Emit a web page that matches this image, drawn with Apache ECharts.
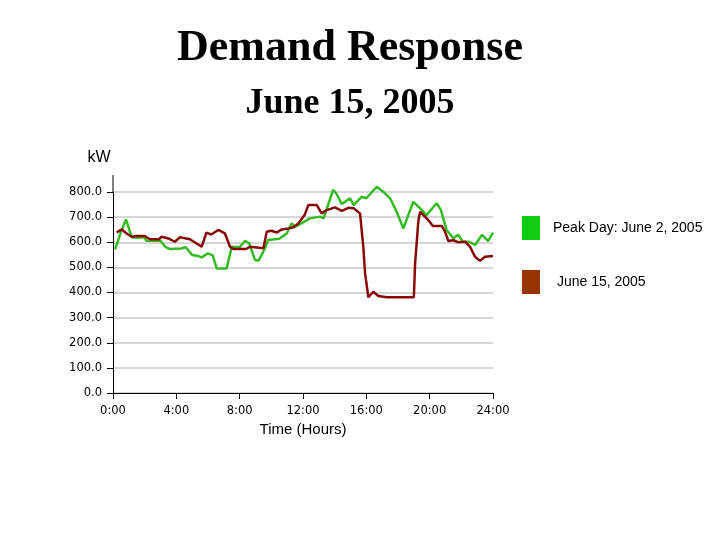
<!DOCTYPE html>
<html>
<head>
<meta charset="utf-8">
<script src="https://cdn.jsdelivr.net/npm/echarts@6/dist/echarts.min.js"></script>
<style>
  html, body { margin: 0; padding: 0; background: #fff; }
  #main { width: 720px; height: 540px; }
</style>
</head>
<body>
<div id="main"></div>
<script>
// 数据：时间（小时）和负荷（kW）
var peakHours = [0.13, 0.5, 0.82, 1.18, 1.6, 2.0, 2.1, 3.0, 3.3, 3.6, 4.3, 4.6, 5.0, 5.4, 5.6, 6.0, 6.3, 6.55, 7.18, 7.5, 8.0, 8.34, 8.6, 8.97, 9.2, 9.6, 9.8, 10.5, 10.97, 11.28, 11.5, 11.9, 12.44, 13.07, 13.3, 13.9, 14.1, 14.45, 14.97, 15.2, 15.7, 16.0, 16.66, 17.07, 17.5, 17.92, 18.34, 18.6, 18.97, 19.4, 19.8, 20.44, 20.7, 21.07, 21.5, 21.8, 22.1, 22.5, 22.87, 23.3, 23.7, 24.0];
var peakKW = [572, 640, 691, 620, 618, 620, 606, 606, 582, 573, 575, 580, 549, 545, 540, 556, 548, 496, 496, 582, 580, 606, 596, 529, 527, 576, 609, 614, 635, 675, 662, 675, 695, 702, 695, 808, 795, 752, 775, 748, 781, 775, 821, 801, 775, 721, 655, 700, 761, 735, 708, 755, 730, 649, 616, 630, 602, 602, 589, 629, 605, 638];

var juneHours = [0.23, 0.55, 0.86, 1.18, 1.5, 2.0, 2.34, 2.9, 3.07, 3.5, 3.9, 4.23, 4.86, 5.6, 5.9, 6.2, 6.65, 7.07, 7.39, 7.6, 8.4, 8.65, 9.5, 9.71, 10.0, 10.35, 10.66, 11.07, 11.4, 11.7, 12.1, 12.34, 12.87, 13.18, 13.5, 14.02, 14.45, 14.86, 15.2, 15.6, 15.81, 15.92, 16.13, 16.44, 16.76, 17.29, 18.0, 19.0, 19.08, 19.29, 19.4, 19.7, 20.0, 20.2, 20.77, 20.97, 21.18, 21.5, 21.8, 22.24, 22.55, 22.87, 23.18, 23.5, 24.0];
var juneKW = [639, 651, 635, 622, 625, 625, 612, 612, 622, 615, 602, 620, 612, 582, 638, 631, 649, 635, 582, 573, 573, 582, 576, 642, 646, 639, 651, 655, 660, 675, 708, 748, 748, 715, 728, 739, 725, 737, 735, 715, 582, 476, 381, 403, 386, 381, 381, 381, 516, 688, 721, 702, 682, 665, 665, 642, 605, 608, 600, 602, 582, 542, 526, 542, 545];

var peakName = 'Peak Day: June 2, 2005';
var juneName = ' June 15, 2005';

function pairs(xs, ys) {
  var out = [];
  for (var i = 0; i < xs.length; i++) {
    out.push([xs[i], ys[i]]);
  }
  return out;
}

var chart = echarts.init(document.getElementById('main'));
var font = 'Liberation Sans, Arial, sans-serif';
var tickFont = 'DejaVu Sans, Verdana, sans-serif';

var option = {
  backgroundColor: '#fff',
  animation: false,
  grid: { left: 113, right: 227, top: 192, bottom: 147 },
  graphic: [
    {
      type: 'text', x: 350, y: 49,
      style: { text: 'Demand Response', font: 'bold 44px "Liberation Serif", "Times New Roman", serif', fill: '#000', textAlign: 'center', textVerticalAlign: 'middle' }
    },
    {
      type: 'text', x: 350, y: 104,
      style: { text: 'June 15, 2005', font: 'bold 36px "Liberation Serif", "Times New Roman", serif', fill: '#000', textAlign: 'center', textVerticalAlign: 'middle' }
    },
    {
      type: 'text', x: 99, y: 158,
      style: { text: 'kW', font: '16px "Liberation Sans", Arial, sans-serif', fill: '#000', textAlign: 'center', textVerticalAlign: 'middle' }
    },
    {
      // 纵轴在800以上还有一段
      type: 'line',
      shape: { x1: 113, y1: 175, x2: 113, y2: 192 },
      style: { stroke: '#000', lineWidth: 1 }
    }
  ],
  legend: {
    orient: 'vertical',
    left: 522,
    top: 216,
    padding: 0,
    itemWidth: 18,
    itemHeight: 24,
    itemGap: 30,
    icon: 'rect',
    textStyle: { fontFamily: font, fontSize: 14, color: '#000', padding: [0, 0, 0, 8] },
    data: [
      { name: peakName, itemStyle: { color: '#11cc11' } },
      { name: juneName, itemStyle: { color: '#993300' } }
    ]
  },
  xAxis: {
    type: 'value',
    min: 0,
    max: 24,
    interval: 4,
    name: 'Time (Hours)',
    nameLocation: 'middle',
    nameGap: 29,
    nameTextStyle: { fontFamily: font, fontSize: 15, color: '#000' },
    axisLine: { lineStyle: { color: '#000', width: 1 } },
    axisTick: { length: 6, lineStyle: { color: '#000' } },
    axisLabel: {
      fontFamily: tickFont, fontSize: 11.5, color: '#000', margin: 12,
      formatter: function (v) { return v + ':00'; }
    },
    splitLine: { show: false }
  },
  yAxis: {
    type: 'value',
    min: 0,
    max: 800,
    interval: 100,
    axisLine: { show: true, lineStyle: { color: '#000', width: 1 } },
    axisTick: { show: true, length: 6, lineStyle: { color: '#000' } },
    axisLabel: {
      fontFamily: tickFont, fontSize: 11.5, color: '#000', margin: 11,
      formatter: function (v) { return v.toFixed(1); }
    },
    splitLine: { lineStyle: { color: '#c8c8c8', width: 1.5 } }
  },
  series: [
    {
      name: peakName,
      type: 'line',
      clip: false,
      data: pairs(peakHours, peakKW),
      showSymbol: false,
      lineStyle: { color: '#33bb22', width: 2.5 },
      itemStyle: { color: '#11cc11' }
    },
    {
      name: juneName,
      type: 'line',
      clip: false,
      data: pairs(juneHours, juneKW),
      showSymbol: false,
      lineStyle: { color: '#880808', width: 2.5 },
      itemStyle: { color: '#993300' }
    }
  ]
};

chart.setOption(option);
</script>
</body>
</html>
